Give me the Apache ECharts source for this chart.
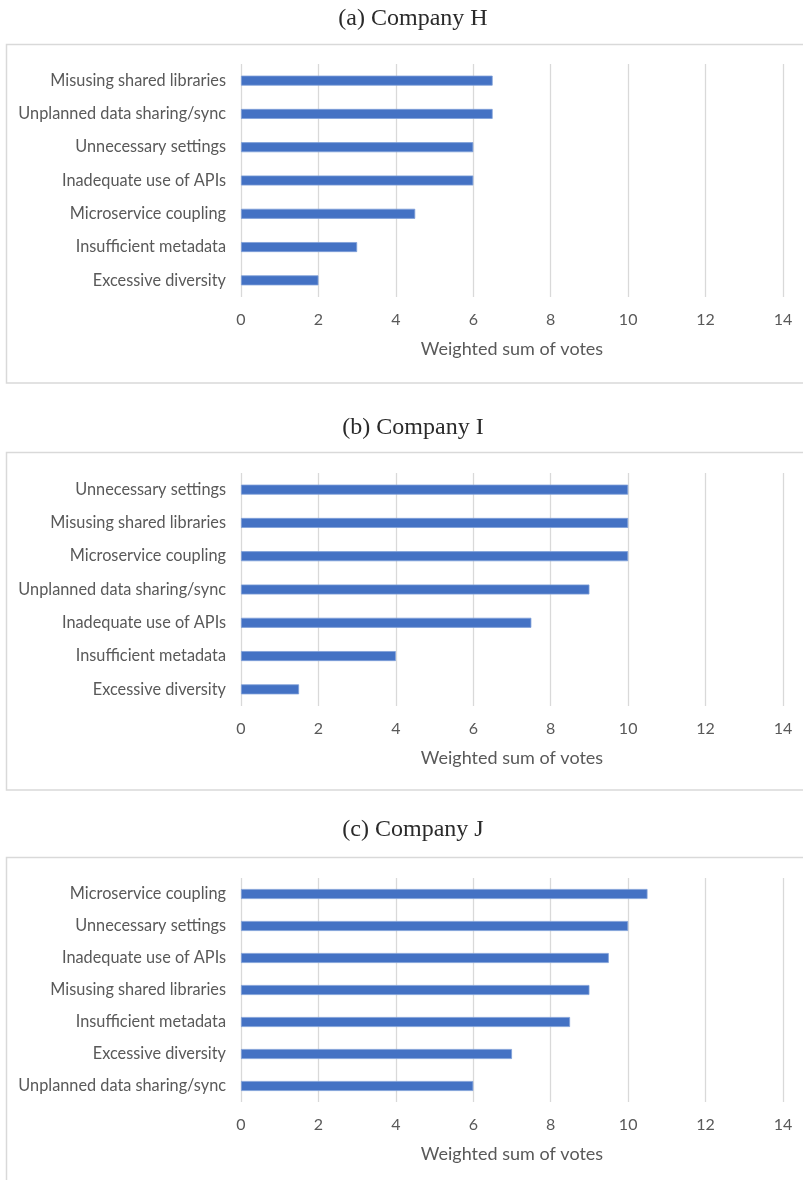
<!DOCTYPE html>
<html>
<head>
<meta charset="utf-8">
<script src="https://cdn.jsdelivr.net/npm/echarts@6/dist/echarts.min.js"></script>
<style>html,body{margin:0;padding:0;background:#fff}#c{width:803px;height:1180px}</style>
</head>
<body>
<div id="c"></div>
<script>
const titles = ['(a) Company H', '(b) Company I', '(c) Company J'];
const catsH = ['Misusing shared libraries', 'Unplanned data sharing/sync', 'Unnecessary settings', 'Inadequate use of APIs', 'Microservice coupling', 'Insufficient metadata', 'Excessive diversity'];
const valsH = [6.5, 6.5, 6, 6, 4.5, 3, 2];
const catsI = ['Unnecessary settings', 'Misusing shared libraries', 'Microservice coupling', 'Unplanned data sharing/sync', 'Inadequate use of APIs', 'Insufficient metadata', 'Excessive diversity'];
const valsI = [10, 10, 10, 9, 7.5, 4, 1.5];
const catsJ = ['Microservice coupling', 'Unnecessary settings', 'Inadequate use of APIs', 'Misusing shared libraries', 'Insufficient metadata', 'Excessive diversity', 'Unplanned data sharing/sync'];
const valsJ = [10.5, 10, 9.5, 9, 8.5, 7, 6];
const xTicks = [0, 2, 4, 6, 8, 10, 12, 14];
const axisName = 'Weighted sum of votes';

const panels = [
  {cats: catsH, vals: valsH, top: 64, height: 233, titleTop: 2, boxY: 44.5, boxH: 338.5},
  {cats: catsI, vals: valsI, top: 473, height: 233, titleTop: 411, boxY: 452.5, boxH: 337.5},
  {cats: catsJ, vals: valsJ, top: 878, height: 224, titleTop: 813, boxY: 857.5, boxH: 400}
];
const txt = '#595959';
const sansFont = 'Lato';
const chart = echarts.init(document.getElementById('c'));
const option = {
  backgroundColor: '#fff',
  animation: false,
  title: panels.map((p, i) => ({
    text: titles[i], left: 408, textAlign: 'center', top: p.titleTop,
    textStyle: {fontFamily: 'Liberation Serif', fontWeight: 'normal', fontSize: 24, color: '#2a2a2a'}
  })),
  graphic: panels.map(p => ({
    type: 'rect', shape: {x: 6.5, y: p.boxY, width: 800, height: p.boxH},
    style: {fill: 'none', stroke: '#d9d9d9', lineWidth: 1.5}, silent: true, z: -1
  })),
  grid: panels.map(p => ({left: 241, right: 20, top: p.top, height: p.height})),
  xAxis: panels.map((p, i) => ({
    gridIndex: i, type: 'value', min: xTicks[0], max: xTicks[xTicks.length - 1], interval: xTicks[1] - xTicks[0],
    axisLine: {show: false}, axisTick: {show: false},
    splitLine: {show: true, lineStyle: {color: '#d9d9d9', width: 1.3}},
    axisLabel: {color: txt, fontFamily: sansFont, fontSize: 16, margin: 15},
    name: axisName, nameLocation: 'middle', nameGap: 43,
    nameTextStyle: {color: txt, fontFamily: sansFont, fontSize: 18}
  })),
  yAxis: panels.map((p, i) => ({
    gridIndex: i, type: 'category', inverse: true, data: p.cats,
    axisLine: {show: false}, axisTick: {show: false}, splitLine: {show: false},
    axisLabel: {color: txt, fontFamily: sansFont, fontSize: 16.3, margin: 15}
  })),
  series: panels.map((p, i) => ({
    type: 'bar', xAxisIndex: i, yAxisIndex: i, data: p.vals, barWidth: 10,
    itemStyle: {color: '#4472c4', borderColor: '#7f9fd8', borderWidth: 0.8}
  }))
};
chart.setOption(option);
</script>
</body>
</html>
